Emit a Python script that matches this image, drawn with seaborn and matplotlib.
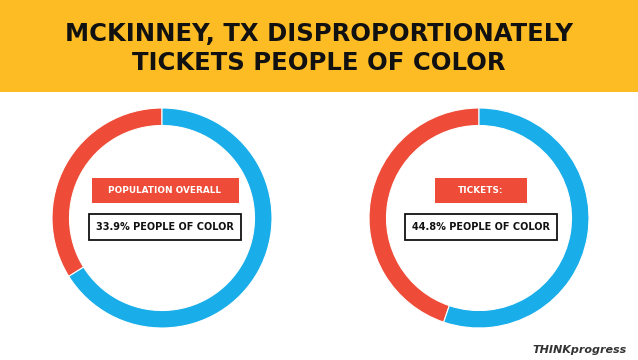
import matplotlib
matplotlib.use("Agg")
import matplotlib.pyplot as plt
import seaborn as sns
from matplotlib.patches import Rectangle

# data
panel_labels = ["POPULATION OVERALL", "TICKETS:"]
poc_share = [33.9, 44.8]
title = "MCKINNEY, TX DISPROPORTIONATELY\nTICKETS PEOPLE OF COLOR"

sns.set_theme(style="white")
plt.rcParams['font.family'] = ['DejaVu Sans']

red = "#EE4C38"
blue = "#19AEEA"
yellow = "#FDBC24"

W, H = 638, 360
fig = plt.figure(figsize=(W / 100, H / 100), dpi=100)
ax = fig.add_axes([0, 0, 1, 1])

# banner
ax.add_patch(Rectangle((0, H - 92), W, 92, color=yellow, lw=0, zorder=1))
ax.text(W / 2, H - 48.5, title, ha='center', va='center', fontsize=17.5,
        fontweight='bold', color='#111111', linespacing=1.3, zorder=3)

centers = [(162, H - 218), (479, H - 218)]
box_dx = [3, 2]
red_w = [147, 92]
radius = 110
for (cx, cy), share, lab, dx, bw in zip(centers, poc_share, panel_labels, box_dx, red_w):
    ax.pie([share, 100 - share], colors=[red, blue], startangle=90,
           counterclock=True, center=(cx, cy), radius=radius, frame=True,
           wedgeprops=dict(width=17.5, edgecolor='white', linewidth=0.8))
    # red label box
    ax.add_patch(Rectangle((cx + dx - bw / 2, cy + 15), bw, 25, color=red, lw=0, zorder=4))
    ax.text(cx + dx, cy + 27.5, lab, ha='center', va='center', color='white',
            fontsize=6.4, fontweight='bold', zorder=5)
    # outlined box
    ax.add_patch(Rectangle((cx + dx - 76, cy - 22), 152, 26, facecolor='white',
                           edgecolor='#111111', lw=1.3, zorder=4))
    ax.text(cx + dx, cy - 9, f"{share}% PEOPLE OF COLOR", ha='center', va='center',
            color='#111111', fontsize=7.0, fontweight='bold', zorder=5)

ax.text(627, H - 350, "THINKprogress", ha='right', va='center', fontsize=8,
        fontstyle='italic', fontweight='bold', color='#333333')

ax.set_xlim(0, W)
ax.set_ylim(0, H)
ax.set_aspect('equal')
ax.axis('off')

fig.savefig("out.png", dpi=100, facecolor='white')
